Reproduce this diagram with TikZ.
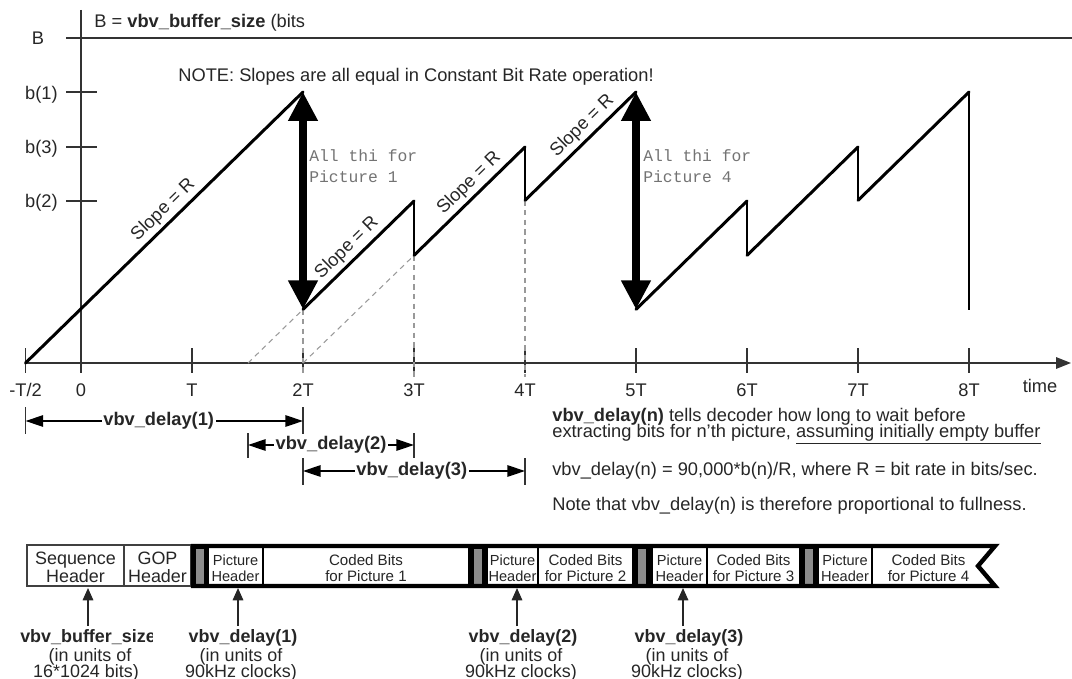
\documentclass[tikz,border=0pt]{standalone}
\usepackage{fontspec}
\setmainfont{Liberation Sans}
\newfontfamily\codefont{Liberation Mono}
\usetikzlibrary{arrows.meta,fit}

\begin{document}
\begin{tikzpicture}[x=0.02cm, y=-0.02cm,
  txt/.style={inner sep=0pt, text=black!85, font=\fontsize{10.4}{12}\selectfont},
  btxt/.style={txt, font=\fontsize{10.4}{12}\selectfont\bfseries},
  axisln/.style={line width=1.0pt, draw=black!80},
  fillln/.style={line width=1.7pt, line join=round, line cap=round},
  dropln/.style={line width=0.9pt},
  guide/.style={draw=black!40, line width=0.6pt, dash pattern=on 3pt off 2.5pt},
  dimln/.style={line width=0.7pt, {Triangle[length=10pt,width=6.5pt]}-{Triangle[length=10pt,width=6.5pt]}},
  dimbar/.style={line width=0.7pt, draw=black!80},
  dimlbl/.style={btxt, fill=white, inner xsep=1pt, inner ysep=1pt},
  bigarrow/.style={line width=4pt, {Triangle[length=16.5pt,width=16pt]}-{Triangle[length=16.5pt,width=16pt]}},
  slopelbl/.style={txt, sloped, above=2.5pt},
  codetxt/.style={inner sep=0pt, text=black!55, align=left, font=\codefont\fontsize{9.3}{11.9}\selectfont},
  hdrbox/.style={draw=black!75, line width=0.8pt, fill=white, inner sep=0pt},
  picbox/.style={draw=black, line width=0.8pt, fill=white, inner sep=0pt},
  hdrtxt/.style={inner sep=0pt, anchor=base, text=black!85, font=\fontsize{10.2}{12}\selectfont},
  pictxt/.style={hdrtxt, font=\fontsize{8.3}{10}\selectfont},
  bittxt/.style={hdrtxt, font=\fontsize{8.6}{10}\selectfont},
  uparr/.style={line width=0.9pt, draw=black!85, -{Triangle[length=7pt,width=6pt]}},
  lbltop/.style={btxt, font=\fontsize{10.2}{12}\selectfont\bfseries, anchor=base},
  lblsub/.style={txt, font=\fontsize{10.2}{12}\selectfont, anchor=base}
]
\useasboundingbox (0,0) rectangle (1072,679);

% ---------------- axes ----------------
\coordinate (yax0) at (81,10);   \coordinate (yax1) at (81,373);
\coordinate (tax0) at (25.5,363); \coordinate (tax1) at (1071,363);
\coordinate (bl0) at (66,38);    \coordinate (bl1) at (1072,38);
\draw[axisln] (yax0) -- (yax1);
\draw[axisln, -{Triangle[length=8.5pt,width=6.5pt]}] (tax0) -- (tax1);
\draw[axisln] (bl0) -- (bl1);
\foreach \y in {92,147,201} \draw[axisln] (66,\y) -- (97,\y);
\foreach \x in {25.5,192,303,414,525,636,747,858,969} \draw[axisln] (\x,348) -- (\x,373);

\node[txt, anchor=base] (lB)  at (38,44.5)  {B};
\node[txt, anchor=base east] (lb1) at (58,99.5)  {b(1)};
\node[txt, anchor=base east] (lb3) at (58,153.5) {b(3)};
\node[txt, anchor=base east] (lb2) at (58,207.5) {b(2)};

\node[txt, anchor=base] (tm0) at (25.5,396) {-T/2};
\node[txt, anchor=base] (tm1) at (81,396)  {0};
\node[txt, anchor=base] (tm2) at (192,396) {T};
\node[txt, anchor=base] (tm3) at (303,396) {2T};
\node[txt, anchor=base] (tm4) at (414,396) {3T};
\node[txt, anchor=base] (tm5) at (525,396) {4T};
\node[txt, anchor=base] (tm6) at (636,396) {5T};
\node[txt, anchor=base] (tm7) at (747,396) {6T};
\node[txt, anchor=base] (tm8) at (858,396) {7T};
\node[txt, anchor=base] (tm9) at (969,396) {8T};
\node[txt, anchor=base] (tmt) at (1040,392) {time};

\node[txt, anchor=base west] (bsz) at (94,27.5) {B = \textbf{vbv\_buffer\_size} (bits};
\node[txt, anchor=base west] (note) at (178,81.5) {NOTE: Slopes are all equal in Constant Bit Rate operation!};

% ---------------- buffer fullness ----------------
\coordinate (c0)  at (25.5,363);
\coordinate (t2a) at (303,92);   \coordinate (t2b) at (303,309.4);
\coordinate (t3a) at (414,201);  \coordinate (t3b) at (414,255.4);
\coordinate (t4a) at (525,147);  \coordinate (t4b) at (525,200.4);
\coordinate (t5a) at (636,92);   \coordinate (t5b) at (636,309.4);
\coordinate (t6a) at (747,201);  \coordinate (t6b) at (747,255.4);
\coordinate (t7a) at (858,147);  \coordinate (t7b) at (858,200.4);
\coordinate (t8a) at (969,92);   \coordinate (t8b) at (969,310);

% back-extensions of the rising lines and vertical guides
\coordinate (e2) at (248,363);
\coordinate (e3) at (303,363);
\draw[guide] (e2) -- (t2b);
\draw[guide] (e3) -- (t3b);
\draw[guide] (t2b) -- (303,377);
\draw[guide] (t3b) -- (414,377);
\draw[guide] (t4b) -- (525,377);

\draw[fillln] (c0) -- (t2a);
\draw[fillln] (t2b) -- (t3a);
\draw[fillln] (t3b) -- (t4a);
\draw[fillln] (t4b) -- (t5a);
\draw[fillln] (t5b) -- (t6a);
\draw[fillln] (t6b) -- (t7a);
\draw[fillln] (t7b) -- (t8a);
\draw[dropln] (t3a) -- (t3b);
\draw[dropln] (t4a) -- (t4b);
\draw[dropln] (t6a) -- (t6b);
\draw[dropln] (t7a) -- (t7b);
\draw[dropln] (t8a) -- (t8b);

\path (c0)  -- node[slopelbl, pos=0.53] (s1) {Slope = R} (t2a);
\path (t2b) -- node[slopelbl, pos=0.48] (s2) {Slope = R} (t3a);
\path (t3b) -- node[slopelbl, pos=0.58] (s3) {Slope = R} (t4a);
\path (t4b) -- node[slopelbl, pos=0.60] (s4) {Slope = R} (t5a);

\draw[bigarrow] (t2b) -- (t2a);
\draw[bigarrow] (t5b) -- (t5a);
\node[codetxt, anchor=west] (all1) at (309,166.5) {All thi for\\Picture 1};
\node[codetxt, anchor=west] (all4) at (643,166.5) {All thi for\\Picture 4};

% ---------------- vbv_delay spans ----------------
\coordinate (d1a) at (25.5,421); \coordinate (d1b) at (303,421);
\coordinate (d2a) at (248,445);  \coordinate (d2b) at (414,445);
\coordinate (d3a) at (303,471);  \coordinate (d3b) at (525,471);
\draw[dimbar] (25.5,407) -- (25.5,434);
\draw[dimbar] (303,407) -- (303,434);
\draw[dimbar] (248,433) -- (248,458);
\draw[dimbar] (414,433) -- (414,458);
\draw[dimbar] (303,458) -- (303,485);
\draw[dimbar] (525,458) -- (525,485);
\draw[dimln] (d1a) -- node[dimlbl, pos=0.48] (dl1) {vbv\_delay(1)} (d1b);
\draw[dimln] (d2a) -- node[dimlbl, pos=0.50] (dl2) {vbv\_delay(2)} (d2b);
\draw[dimln] (d3a) -- node[dimlbl, pos=0.49] (dl3) {vbv\_delay(3)} (d3b);

\node[txt, anchor=base west] (n1) at (552,421) {\textbf{vbv\_delay(n)} tells decoder how long to wait before};
\node[txt, anchor=base west] (n2) at (552,437) {extracting bits for n'th picture, \underline{assuming initially empty buffer}};
\node[txt, anchor=base west] (n3) at (552,475) {vbv\_delay(n) = 90,000*b(n)/R, where R = bit rate in bits/sec.};
\node[txt, anchor=base west] (n4) at (552,510) {Note that vbv\_delay(n) is therefore proportional to fullness.};

% ---------------- bitstream ----------------
\node[hdrbox, fit={(27,545) (124,586)}] (seq) {};
\node[hdrbox, fit={(124,545) (191,586)}] (gop) {};
\node[picbox, fit={(208,547) (263,585)}] (ph1) {};
\node[picbox, fit={(263,547) (469,585)}] (cb1) {};
\node[picbox, fit={(487,547) (538,585)}] (ph2) {};
\node[picbox, fit={(538,547) (633,585)}] (cb2) {};
\node[picbox, fit={(652,547) (707,585)}] (ph3) {};
\node[picbox, fit={(707,547) (800,585)}] (cb3) {};
\node[picbox, fit={(818,547) (872,585)}] (ph4) {};
\node[picbox, draw=none, fit={(872,547) (985,585)}] (cb4) {};
\draw[line width=0.8pt] (ph4.north east) -- (ph4.south east);

\node[hdrtxt] (seqa) at ([yshift=0pt]seq.center |- 0,564) {Sequence};
\node[hdrtxt] (seqb) at (seq.center |- 0,582) {Header};
\node[hdrtxt] (gopa) at (gop.center |- 0,564) {GOP};
\node[hdrtxt] (gopb) at (gop.center |- 0,582) {Header};
\foreach \b/\n in {ph1/1,ph2/2,ph3/3,ph4/4} {
  \node[pictxt] (\b a) at (\b.center |- 0,565) {Picture};
  \node[pictxt] (\b b) at (\b.center |- 0,581) {Header};
}
\foreach \b/\n in {cb1/1,cb2/2,cb3/3,cb4/4} {
  \node[bittxt] (\b a) at (\b.center |- 0,565) {Coded Bits};
  \node[bittxt] (\b b) at (\b.center |- 0,581) {for Picture \n};
}

% start codes: dark bars with a grey core
\foreach \xa in {191,469,633,800} {
  \fill[black] (\xa,546) rectangle (\xa+18,586);
  \fill[black!45] (\xa+5,548.5) rectangle (\xa+13,583.5);
}
\draw[line width=2.5pt, line join=miter] (193,546) -- (995,546) -- (978,566) -- (995,586) -- (193,586) -- cycle;

% ---------------- field labels ----------------
\coordinate (barbot) at (0,588);
\coordinate (u1) at (88,626);
\coordinate (u2) at (238,626);
\coordinate (u3) at (517,626);
\coordinate (u4) at (683,626);
\draw[uparr] (u1) -- (u1 |- barbot);
\draw[uparr] (u2) -- (u2 |- barbot);
\draw[uparr] (u3) -- (u3 |- barbot);
\draw[uparr] (u4) -- (u4 |- barbot);

\begin{scope}
  \clip (0,620) rectangle (152,650);
  \node[lbltop] (f1) at (88,642) {vbv\_buffer\_size};
\end{scope}
\node[lblsub] (f1b) at (90,661) {(in units of};
\node[lblsub] (f1c) at (86,677) {16*1024 bits)};

\node[lbltop] (f2) at (243,642) {vbv\_delay(1)};
\node[lblsub] (f2b) at (241,661) {(in units of};
\node[lblsub] (f2c) at (241,677) {90kHz clocks)};

\node[lbltop] (f3) at (523,642) {vbv\_delay(2)};
\node[lblsub] (f3b) at (521,661) {(in units of};
\node[lblsub] (f3c) at (521,677) {90kHz clocks)};

\node[lbltop] (f4) at (689,642) {vbv\_delay(3)};
\node[lblsub] (f4b) at (687,661) {(in units of};
\node[lblsub] (f4c) at (687,677) {90kHz clocks)};
\end{tikzpicture}
\end{document}
